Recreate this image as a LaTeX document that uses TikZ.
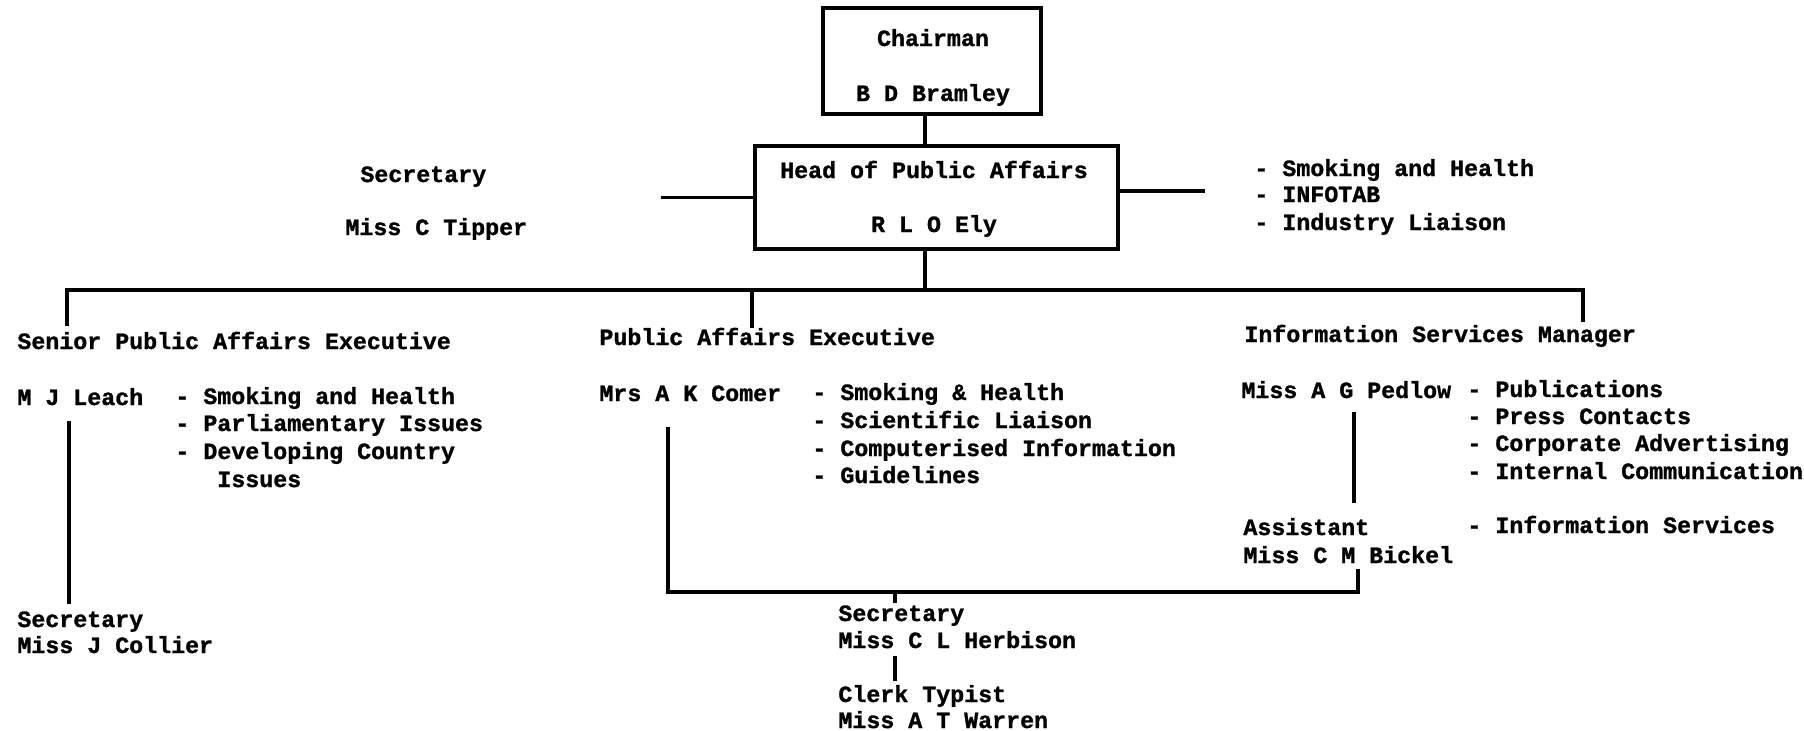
\documentclass[tikz,border=0pt]{standalone}
\usepackage{fontspec}
\setmonofont{Liberation Mono}[BoldFeatures={FakeBold=1.2}]
\usetikzlibrary{calc}
\begin{document}
\begin{tikzpicture}[x=0.5pt,y=-0.5pt,
  txt/.style={anchor=base west, inner sep=0pt, yshift=-1pt, font=\ttfamily\bfseries\fontsize{11.65pt}{13.8pt}\selectfont},
  ctxt/.style={txt, anchor=base},
  ln/.style={line width=1.6pt},
  orgbox/.style={draw, line width=1.6pt, inner sep=0pt}]
\useasboundingbox (0,0) rectangle (1804,730);
\fill[white] (0,0) rectangle (1804,730);
% boxes
\node[orgbox, minimum width=109pt, minimum height=53pt] (chair) at (932,61) {};
\node[ctxt] (chairt1) at (933,44) {Chairman};
\node[ctxt] (chairt2) at (933,99) {B D Bramley};
\node[orgbox, minimum width=181.5pt, minimum height=51.5pt] (head) at (936.5,197.5) {};
\node[ctxt] (headt1) at (934,176) {Head of Public Affairs};
\node[ctxt] (headt2) at (934,230) {R L O Ely};
% secretary of head
\node[txt] (sec1) at (360,180) {Secretary};
\node[txt] (sec2) at (345,233) {Miss C Tipper};
% right list
\node[txt] (r1) at (1254,174) {- Smoking and Health};
\node[txt] (r2) at (1254,200) {- INFOTAB};
\node[txt] (r3) at (1254,228) {- Industry Liaison};
% senior PAE
\node[txt] (spae) at (17,347) {Senior Public Affairs Executive};
\node[txt] (leach) at (17,403) {M J Leach};
\node[txt] (la1) at (175,402) {- Smoking and Health};
\node[txt] (la2) at (175,429) {- Parliamentary Issues};
\node[txt] (la3) at (175,457) {- Developing Country};
\node[txt] (la4) at (175,485) {\phantom{- D}Issues};
\node[txt] (lsec) at (17,625) {Secretary};
\node[txt] (lsec2) at (17,651) {Miss J Collier};
% PAE
\node[txt] (pae) at (599,343) {Public Affairs Executive};
\node[txt] (comer) at (599,399) {Mrs A K Comer};
\node[txt] (ca1) at (812,398) {- Smoking \& Health};
\node[txt] (ca2) at (812,426) {- Scientific Liaison};
\node[txt] (ca3) at (812,454) {- Computerised Information};
\node[txt] (ca4) at (812,481) {- Guidelines};
\node[txt] (msec) at (838,619) {Secretary};
\node[txt] (msec2) at (838,646) {Miss C L Herbison};
\node[txt] (clerk) at (838,700) {Clerk Typist};
\node[txt] (clerk2) at (838,726) {Miss A T Warren};
% ISM
\node[txt] (ism) at (1244,340) {Information Services Manager};
\node[txt] (pedlow) at (1241,396) {Miss A G Pedlow};
\node[txt] (pa1) at (1467,395) {- Publications};
\node[txt] (pa2) at (1467,422) {- Press Contacts};
\node[txt] (pa3) at (1467,449) {- Corporate Advertising};
\node[txt] (pa4) at (1467,477) {- Internal Communication};
\node[txt] (pa5) at (1467,531) {- Information Services};
\node[txt] (asst) at (1243,533) {Assistant};
\node[txt] (bickel) at (1243,561) {Miss C M Bickel};
% connectors
\draw[ln] ([xshift=-3.5pt]chair.south) -- ++(0,32);
\draw[ln] (head.west) -- ++(-92,0);
\draw[ln] ([yshift=3.25pt]head.east) -- ++(85,0);
\draw[ln] ([xshift=-5.75pt]head.south) -- ++(0,41);
\draw[ln] ($(spae.base west)+(50,-23)$) |- ($(ism.base west)+(339,-52)$) -- ($(ism.base west)+(339,-20)$);
\draw[ln] ($(pae.base west)+(153,-55)$) -- ($(pae.base west)+(153,-17)$);
\draw[ln] ($(leach.base west)+(52,16)$) -- ($(lsec.base west)+(52,-23)$);
\draw[ln] ($(comer.base west)+(69,26)$) |- ($(bickel.base west)+(115,29)$) -- ($(bickel.base west)+(115,6)$);
\draw[ln] ($(msec.base west)+(57,-29)$) -- ($(msec.base west)+(57,-18)$);
\draw[ln] ($(msec2.base west)+(57,8)$) -- ($(clerk.base west)+(57,-21)$);
\draw[ln] ($(pedlow.base west)+(113,14)$) -- ($(asst.base west)+(111,-32)$);
\end{tikzpicture}
\end{document}
